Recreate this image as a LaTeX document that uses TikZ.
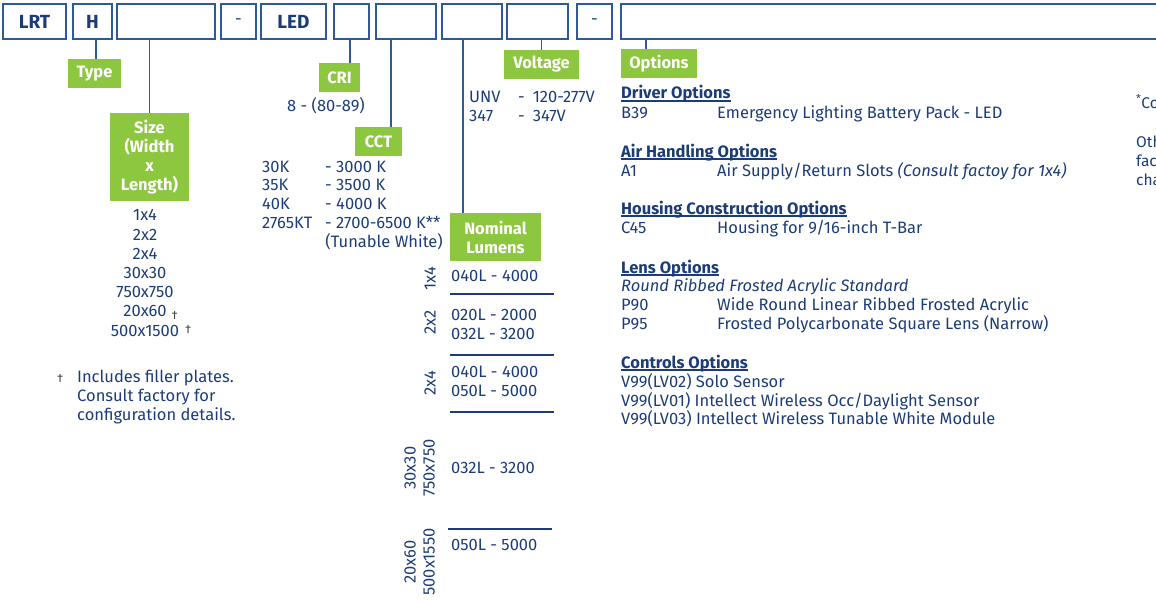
\documentclass[tikz,border=0pt]{standalone}
\usepackage{fontspec}
\setmainfont{Fira Sans}
\usetikzlibrary{positioning}
\definecolor{lrtnavy}{HTML}{1C3C78}
\definecolor{lrtline}{HTML}{2E5A9A}
\definecolor{lrtgreen}{HTML}{8DC63F}
\newcommand{\bodyfont}{\fontsize{16.5}{19}\selectfont}
\newcommand{\dg}{{\color{black!75}\fontsize{12}{12}\selectfont †}}
\newsavebox\hdbox
\newcommand{\hd}[1]{\sbox\hdbox{#1}\usebox\hdbox\llap{\rule[-2.5pt]{\wd\hdbox}{1.2pt}}}
\tikzset{
  field/.style  = {draw=lrtline, line width=1.4pt, minimum height=35, inner sep=0pt,
                   text=lrtnavy, font=\fontsize{19}{20}\selectfont\bfseries},
  tag/.style    = {fill=lrtgreen, text=white, inner sep=0pt, align=center,
                   font=\fontsize{16.5}{19}\selectfont\bfseries},
  lead/.style   = {draw=lrtline, line width=1.8pt},
  sep/.style    = {draw=lrtnavy, line width=1.3pt},
  txt/.style    = {text=lrtnavy, font=\bodyfont, inner sep=0pt, anchor=base west},
  ctxt/.style   = {txt, anchor=base},
  rtxt/.style   = {txt, anchor=base east},
  head/.style   = {txt, font=\bodyfont\bfseries},
  rot/.style    = {text=lrtnavy, font=\bodyfont, inner sep=0pt, rotate=90},
  edgetxt/.style = {txt, font=\fontsize{15.5}{19}\selectfont},
}

\begin{document}
\begin{tikzpicture}[x=1pt, y=-1pt]
  \useasboundingbox (0,0) rectangle (1156,602);

  % ---------- catalogue number fields --------------------------------------
  \node[field, minimum width=63]  (lrtbox)  at (34.5,21.5)  {LRT};
  \node[field, minimum width=39]  (hbox)    at (92.5,21.5)  {H};
  \node[field, minimum width=98]  (sizebox) at (166,21.5)   {};
  \node[field, minimum width=35, font=\bodyfont] (dasha) at (238.5,21.5) {-};
  \node[field, minimum width=65]  (ledbox)  at (293.5,21.5) {LED};
  \node[field, minimum width=35]  (cribox)  at (351.5,21.5) {};
  \node[field, minimum width=60]  (cctbox)  at (406,21.5)   {};
  \node[field, minimum width=60]  (lumbox)  at (472,21.5)   {};
  \node[field, minimum width=61]  (voltbox) at (537.5,21.5) {};
  \node[field, minimum width=35, font=\bodyfont] (dashb) at (594.5,21.5) {-};
  \node[field, minimum width=549] (optbox)  at (895.5,21.5) {};

  % ---------- green tags ---------------------------------------------------
  \node[tag, minimum width=53, minimum height=29] (typlbl)  at (94.5,73.5)  {Type};
  \node[tag, minimum width=79, minimum height=88] (sizelbl) at (149.5,157)  {Size\\(Width\\x\\Length)};
  \node[tag, minimum width=41, minimum height=29] (crilbl)  at (339.5,77.5) {CRI};
  \node[tag, minimum width=47, minimum height=29] (cctlbl)  at (378.5,141.5) {CCT};
  \node[tag, minimum width=91, minimum height=48] (lumlbl)  at (495.5,237)  {Nominal\\Lumens};
  \node[tag, minimum width=75, minimum height=29] (voltlbl) at (541.5,64.5) {Voltage};
  \node[tag, minimum width=76, minimum height=29] (optlbl)  at (659,63.5)   {Options};

  % ---------- leaders ------------------------------------------------------
  \draw[lead] ([xshift=1.5]typlbl.north) -- ([xshift=1.5]typlbl.north |- hbox.south);
  \draw[lead] (sizelbl.north) -- (sizelbl.north |- sizebox.south);
  \draw[lead] ([xshift=10.5]crilbl.north) -- ([xshift=10.5]crilbl.north |- cribox.south);
  \draw[lead] ([xshift=12.5]cctlbl.north) -- ([xshift=12.5]cctlbl.north |- cctbox.south);
  \draw[lead] ([xshift=-32.5]lumlbl.north) -- ([xshift=-32.5]lumlbl.north |- lumbox.south);
  \draw[lead] (voltlbl.north) -- (voltlbl.north |- voltbox.south);
  \draw[lead] ([xshift=-13]optlbl.north) -- ([xshift=-13]optlbl.north |- optbox.south);

  % ---------- sizes --------------------------------------------------------
  \node[ctxt] (sz1) at (145,220) {1x4};
  \node[ctxt] (sz2) at (145,240) {2x2};
  \node[ctxt] (sz3) at (145,259) {2x4};
  \node[ctxt] (sz4) at (145,278) {30x30};
  \node[ctxt] (sz5) at (145,297) {750x750};
  \node[ctxt] (sz6) at (145,316) {20x60\rlap{\hspace{5pt}\raisebox{-3pt}{\dg}}};
  \node[ctxt] (sz7) at (145,336) {500x1500\rlap{\hspace{6pt}\raisebox{3pt}{\dg}}};
  \node[txt]  (ftdg) at (57,382) {\dg};
  \node[txt]  (ft1) at (77,382) {Includes filler plates.};
  \node[txt]  (ft2) at (77,401) {Consult factory for};
  \node[txt]  (ft3) at (77,420) {configuration details.};

  % ---------- CRI and CCT --------------------------------------------------
  \node[txt] (cri8) at (287,111) {8 - (80-89)};
  \node[txt] (cct1) at (262,172) {\makebox[63pt][l]{30K}- 3000 K};
  \node[txt] (cct2) at (262,190) {\makebox[63pt][l]{35K}- 3500 K};
  \node[txt] (cct3) at (262,209) {\makebox[63pt][l]{40K}- 4000 K};
  \node[txt] (cct4) at (262,228) {\makebox[63pt][l]{2765KT}- 2700-6500 K**};
  \node[rtxt] (cct5) at (443,247) {(Tunable White)};

  % ---------- voltage ------------------------------------------------------
  \node[txt] (unv) at (469,102) {\makebox[49pt][l]{UNV}-\hspace{8pt}120-277V};
  \node[txt] (v347) at (469,121) {\makebox[49pt][l]{347}-\hspace{8pt}347V};

  % ---------- nominal lumens by size --------------------------------------
  \node[rot] (r1x4) at (430,279) {1x4};
  \node[txt] (l1) at (451,281) {040L - 4000};
  \draw[sep] (450,294) -- (554,294);
  \node[rot] (r2x2) at (430,322) {2x2};
  \node[txt] (l2) at (451,320) {020L - 2000};
  \node[txt] (l3) at (451,339) {032L - 3200};
  \draw[sep] (450,355) -- (554,355);
  \node[rot] (r2x4) at (430,383) {2x4};
  \node[txt] (l4) at (451,377) {040L - 4000};
  \node[txt] (l5) at (451,396) {050L - 5000};
  \draw[sep] (450,412) -- (554,412);
  \node[rot] (r30) at (410,468) {30x30};
  \node[rot] (r750) at (429,468) {750x750};
  \node[txt] (l6) at (451,473) {032L - 3200};
  \draw[sep] (448,529) -- (552,529);
  \node[rot] (r20) at (410,562) {20x60};
  \node[rot] (r500) at (429,562) {500x1550};
  \node[txt] (l7) at (451,550) {050L - 5000};

  % ---------- options ------------------------------------------------------
  \node[head] (hdrv) at (621,99)  {\hd{Driver Options}};
  \node[txt]  (o1)   at (621,118) {\makebox[96pt][l]{B39}Emergency Lighting Battery Pack - LED};
  \node[head] (hair) at (621,157) {\hd{Air Handling Options}};
  \node[txt]  (o2)   at (621,176) {\makebox[96pt][l]{A1}Air Supply/Return Slots \textit{(Consult factoy for 1x4)}};
  \node[head] (hhou) at (621,214) {\hd{Housing Construction Options}};
  \node[txt]  (o3)   at (621,233) {\makebox[96pt][l]{C45}Housing for 9/16-inch T-Bar};
  \node[head] (hlen) at (621,273) {\hd{Lens Options}};
  \node[txt]  (o4)   at (621,291) {\textit{Round Ribbed Frosted Acrylic Standard}};
  \node[txt]  (o5)   at (621,310) {\makebox[96pt][l]{P90}Wide Round Linear Ribbed Frosted Acrylic};
  \node[txt]  (o6)   at (621,329) {\makebox[96pt][l]{P95}Frosted Polycarbonate Square Lens (Narrow)};
  \node[head] (hctl) at (621,368) {\hd{Controls Options}};
  \node[txt]  (o7)   at (621,387) {V99(LV02) Solo Sensor};
  \node[txt]  (o8)   at (621,406) {V99(LV01) Intellect Wireless Occ/Daylight Sensor};
  \node[txt]  (o9)   at (621,424) {V99(LV03) Intellect Wireless Tunable White Module};

  % ---------- notes cut at the right edge ----------------------------------
  \node[edgetxt] (n1) at (1136,108) {\textsuperscript{*}Co};
  \node[edgetxt] (n2) at (1136,147) {Oth};
  \node[edgetxt] (n3) at (1136,166) {fac};
  \node[edgetxt] (n4) at (1136,185) {cha};

\end{tikzpicture}
\end{document}
